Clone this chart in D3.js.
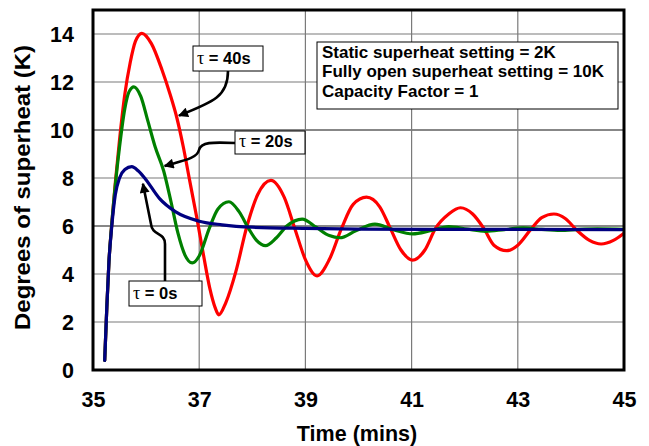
<!DOCTYPE html>
<html><head><meta charset="utf-8">
<script src="https://cdn.jsdelivr.net/npm/d3@7"></script>
<style>
html,body{margin:0;padding:0;background:#fff;}
svg{display:block;font-family:"Liberation Sans",Arial,sans-serif;}
</style></head>
<body>
<svg id="chart" width="649" height="446"></svg>
<script>
// ---- data ----
const xTicks = [35, 37, 39, 41, 43, 45];
const yTicks = [0, 2, 4, 6, 8, 10, 12, 14];
const xTitle = "Time (mins)";
const yTitle = "Degrees of superheat (K)";
const infoLines = ["Static superheat setting = 2K", "Fully open superheat setting = 10K", "Capacity Factor = 1"];

// tau = 40s (red)
const red = [[35.22,0.4],[35.26,2.6],[35.3,4.5],[35.35,6.0],[35.42,7.8],[35.5,9.6],[35.6,11.5],[35.7,12.8],[35.8,13.7],[35.92,14.03],
 [36.1,13.6],[36.3,12.5],[36.45,11.5],[36.58,10.5],[36.7,9.3],[36.82,7.9],[36.95,6.4],[37.08,4.8],[37.2,3.4],[37.3,2.6],[37.37,2.3],
 [37.5,2.8],[37.69,4.1],[37.9,6.0],[38.1,7.3],[38.35,7.9],[38.6,7.2],[38.8,5.9],[39.0,4.6],[39.22,3.92],
 [39.45,4.6],[39.68,5.9],[39.9,6.9],[40.15,7.2],[40.4,6.8],[40.6,5.9],[40.8,5.0],[41.02,4.58],[41.25,5.0],
 [41.45,5.9],[41.7,6.5],[41.92,6.76],[42.15,6.5],[42.36,5.9],[42.55,5.2],[42.79,4.97],[43.0,5.2],[43.26,5.9],
 [43.45,6.35],[43.68,6.5],[43.9,6.3],[44.1,5.85],[44.35,5.4],[44.57,5.25],[44.8,5.4],[45.0,5.7]];
// tau = 20s (green)
const green = [[35.22,0.4],[35.26,2.6],[35.3,4.5],[35.35,6.0],[35.42,7.7],[35.5,9.3],[35.6,10.9],[35.68,11.6],[35.77,11.8],[35.9,11.4],
 [36.03,10.4],[36.17,9.3],[36.33,8.3],[36.47,7.0],[36.6,5.7],[36.73,4.8],[36.87,4.46],[37.0,4.75],[37.19,5.9],[37.35,6.7],
 [37.56,7.01],[37.75,6.6],[37.93,5.9],[38.08,5.4],[38.25,5.18],[38.45,5.5],[38.65,6.0],[38.94,6.29],[39.2,5.95],
 [39.45,5.6],[39.65,5.51],[39.95,5.8],[40.31,6.08],[40.65,5.85],[41.02,5.67],[41.35,5.8],[41.7,5.98],[42.05,5.87],
 [42.4,5.78],[42.75,5.85],[43.1,5.92],[43.45,5.86],[43.8,5.82],[44.15,5.86],[44.5,5.88],[45.0,5.86]];
// tau = 0s (blue)
const blue = [[35.22,0.4],[35.26,2.6],[35.3,4.5],[35.35,5.9],[35.42,7.3],[35.5,8.0],[35.6,8.35],[35.73,8.47],[35.85,8.3],[35.99,7.95],
 [36.25,7.15],[36.55,6.6],[37.0,6.2],[37.43,6.05],[38.0,5.95],[39.0,5.9],[40.0,5.87],[42.0,5.86],[45.0,5.85]];

const seriesList = [
  {name:"40", data:red, color:"#ff0000"},
  {name:"20", data:green, color:"#008000"},
  {name:"0", data:blue, color:"#000080"}
];
// annotation anchors (data coords of arrow tips)
const tipPoints = {t40:[36.6,10.6], t20:[36.33,8.5], t0:[35.94,7.8]};

// ---- drawing ----
const svg = d3.select("#chart");
const X0 = 93, X1 = 624, Y0 = 370, Y1 = 10;
const x = d3.scaleLinear().domain([35,45]).range([X0,X1]);
const y = d3.scaleLinear().domain([0,15]).range([Y0,Y1]);

const defs = svg.append("defs");
defs.append("clipPath").attr("id","clip").append("rect")
  .attr("x",X0).attr("y",Y1).attr("width",X1-X0).attr("height",Y0-Y1);
defs.append("marker").attr("id","ah").attr("viewBox","0 0 10 10")
  .attr("refX",9).attr("refY",5).attr("markerUnits","userSpaceOnUse")
  .attr("markerWidth",11).attr("markerHeight",10).attr("orient","auto")
  .append("path").attr("d","M0,0 L10,5 L0,10 z").attr("fill","#000");

// grid
const grid = svg.append("g");
grid.selectAll("line.h").data(yTicks.filter(v=>v>0)).enter().append("line")
  .attr("x1",X0).attr("x2",X1).attr("y1",d=>y(d)).attr("y2",d=>y(d))
  .attr("stroke",d=>(d===6||d===10)?"#111":"#7a7a7a").attr("stroke-width",1.2);
grid.selectAll("line.v").data(xTicks.slice(1,-1)).enter().append("line")
  .attr("y1",Y1).attr("y2",Y0).attr("x1",d=>x(d)).attr("x2",d=>x(d))
  .attr("stroke","#7a7a7a").attr("stroke-width",1.2);

// axes labels via d3 axes (no domain/ticks lines)
const yAxis = svg.append("g").attr("transform",`translate(${X0},0)`)
  .call(d3.axisLeft(y).tickValues(yTicks).tickSize(0).tickPadding(19).tickFormat(d3.format("d")));
yAxis.select(".domain").remove();
yAxis.selectAll("text").attr("font-size",21.5).attr("font-weight","bold").attr("fill","#000")
  .attr("font-family","Liberation Sans, Arial, sans-serif").attr("dy","0.36em");
const xAxis = svg.append("g").attr("transform",`translate(0,${Y0})`)
  .call(d3.axisBottom(x).tickValues(xTicks).tickSize(0).tickPadding(22).tickFormat(d3.format("d")));
xAxis.select(".domain").remove();
xAxis.selectAll("text").attr("font-size",21.5).attr("font-weight","bold").attr("fill","#000")
  .attr("font-family","Liberation Sans, Arial, sans-serif");

svg.append("text").attr("x",357).attr("y",441).attr("text-anchor","middle")
  .attr("font-size",21.5).attr("font-weight","bold").text(xTitle);
svg.append("text").attr("transform",`translate(30,187.5) rotate(-90)`).attr("text-anchor","middle")
  .attr("font-size",22).attr("font-weight","bold")
  .attr("textLength",285).attr("lengthAdjust","spacingAndGlyphs").text(yTitle);

// curves
const line = d3.line().x(d=>x(d[0])).y(d=>y(d[1])).curve(d3.curveMonotoneX);
svg.append("g").attr("clip-path","url(#clip)").selectAll("path").data(seriesList).enter().append("path")
  .attr("d",d=>line(d.data)).attr("fill","none").attr("stroke",d=>d.color)
  .attr("stroke-width",3.2).attr("stroke-linejoin","round").attr("stroke-linecap","round");

// frame
svg.append("rect").attr("x",X0).attr("y",Y1).attr("width",X1-X0).attr("height",Y0-Y1)
  .attr("fill","none").attr("stroke","#000").attr("stroke-width",3);

// annotations
const ann = svg.append("g");
function tauBox(bx,by,bw,bh,label){
  ann.append("rect").attr("x",bx).attr("y",by).attr("width",bw).attr("height",bh)
    .attr("fill","#fff").attr("stroke","#000").attr("stroke-width",1);
  const t = ann.append("text").attr("x",bx+4).attr("y",by+bh-7.5).attr("font-size",16.5).attr("font-weight","bold");
  t.append("tspan").attr("font-family","Liberation Serif, Times New Roman, serif").attr("font-weight","normal").attr("font-size",18).text("τ");
  t.append("tspan").text(" = " + label + "s");
}
function arrow(d){
  ann.append("path").attr("d",d).attr("fill","none").attr("stroke","#000")
    .attr("stroke-width",2.6).attr("marker-end","url(#ah)");
}
const p40 = [x(tipPoints.t40[0]), y(tipPoints.t40[1])];
const p20 = [x(tipPoints.t20[0]), y(tipPoints.t20[1])];
const p0 = [x(tipPoints.t0[0]), y(tipPoints.t0[1])];
arrow(`M228,71 C228,96 214,102 ${p40[0]+1},${p40[1]}`);
arrow(`M235,143 C212,142 201,142 199,150 C197,158 186,160 ${p20[0]+1},${p20[1]}`);
arrow(`M165,281 L165,244 C165,232 152,236 151,224 L${p0[0]},${p0[1]+1}`);
tauBox(193,46,70,25,"40");
tauBox(235,131,70,23,"20");
tauBox(129,281,73,25,"0");

// info box
ann.append("rect").attr("x",317).attr("y",42).attr("width",301).attr("height",67)
  .attr("fill","#fff").attr("stroke","#000").attr("stroke-width",1);
ann.selectAll("text.info").data(infoLines).enter().append("text")
  .attr("x",322).attr("y",(d,i)=>57.5+i*19.5).attr("font-size",17).attr("font-weight","bold").text(d=>d);
</script>
</body></html>
